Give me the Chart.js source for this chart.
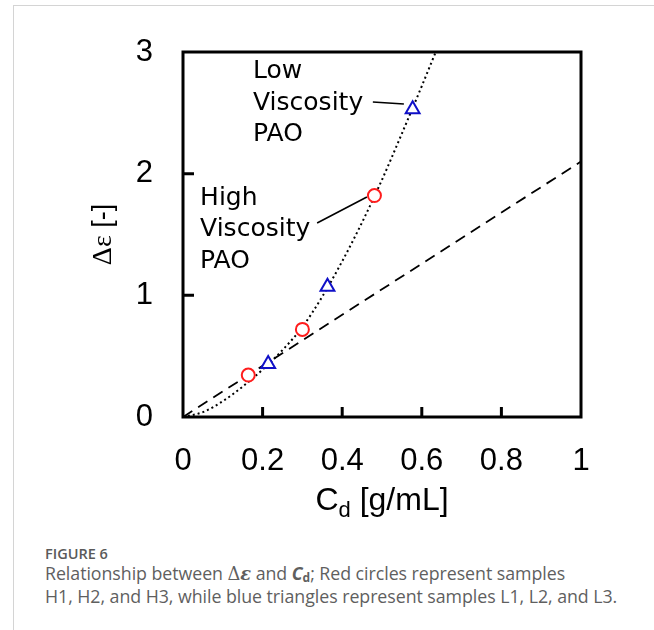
<!DOCTYPE html>
<html>
<head>
<meta charset="utf-8">
<script src="https://cdn.jsdelivr.net/npm/chart.js@4.4.1/dist/chart.umd.min.js"></script>
<style>
html,body{margin:0;padding:0;background:#fff;width:654px;height:630px;overflow:hidden;}
#frame{position:absolute;left:13px;top:5px;width:700px;height:700px;border-left:1px solid #d4d4d4;border-top:1px solid #d4d4d4;}
#wrap{position:absolute;left:0;top:0;width:654px;height:530px;}
#cap{position:absolute;left:45px;top:545px;font-family:"Open Sans",sans-serif;color:#5f5f5f;white-space:nowrap;}
#cap .fig{font-size:14.5px;font-weight:600;line-height:17px;color:#5a5a5a;}
#cap .txt{font-size:17.8px;line-height:23px;letter-spacing:-0.05px;}
#cap .sym{font-family:"DejaVu Serif",serif;font-style:italic;}
#cap sub{font-size:12px;vertical-align:-2px;line-height:0;}
</style>
</head>
<body>
<div id="frame"></div>
<div id="wrap"><canvas id="c" width="654" height="530"></canvas></div>
<div id="cap">
  <div class="fig">FIGURE 6</div>
  <div class="txt">Relationship between <span style="font-family:'DejaVu Serif',serif">Δ</span><b class="sym">ε</b> and <b><i>C</i><sub>d</sub></b>; Red circles represent samples<br>H1, H2, and H3, while blue triangles represent samples L1, L2, and L3.</div>
</div>
<script>
// ---- data ----
const xTickValues = [0, 0.2, 0.4, 0.6, 0.8, 1];
const yTickValues = [0, 1, 2, 3];
const xTickLabels = ['0', '0.2', '0.4', '0.6', '0.8', '1'];
const yTickLabels = ['0', '1', '2', '3'];

const dashedX = [0, 1];
const dashedY = [0, 2.1];

const dottedX = [0, 0.05, 0.10, 0.15, 0.20, 0.25, 0.30, 0.35, 0.40, 0.45, 0.50, 0.55, 0.60, 0.635];
const dottedY = [0, 0.04, 0.13, 0.25, 0.39, 0.55, 0.74, 0.99, 1.28, 1.60, 1.95, 2.33, 2.72, 3.0];

const highX = [0.164, 0.300, 0.481];   // H1, H2, H3 (red circles)
const highY = [0.345, 0.72, 1.82];
const lowX = [0.214, 0.363, 0.577];    // L1, L2, L3 (blue triangles)
const lowY = [0.435, 1.07, 2.53];

const xTitleMain = 'C', xTitleSub = 'd', xTitleRest = ' [g/mL]';
const yTitleSym = 'Δε', yTitleRest = ' [-]';
const lowLabel = ['Low', 'Viscosity', 'PAO'];
const highLabel = ['High', 'Viscosity', 'PAO'];

const zip = (xs, ys) => xs.map((x, i) => ({x: x, y: ys[i]}));

const AXIS_FONT = '"Liberation Sans", Arial, sans-serif';
const NOTE_FONT = '"DejaVu Sans", sans-serif';

const decor = {
  id: 'decor',
  afterDraw(chart) {
    const {ctx, chartArea: a, scales: {x, y}} = chart;
    ctx.save();
    // frame
    ctx.strokeStyle = '#000';
    ctx.lineWidth = 3;
    ctx.strokeRect(a.left, a.top, a.right - a.left, a.bottom - a.top);
    // inward tick marks
    ctx.beginPath();
    xTickValues.slice(1, -1).forEach(v => {
      const px = x.getPixelForValue(v);
      ctx.moveTo(px, a.bottom); ctx.lineTo(px, a.bottom - 10);
    });
    yTickValues.slice(1, -1).forEach(v => {
      const py = y.getPixelForValue(v);
      ctx.moveTo(a.left, py); ctx.lineTo(a.left + 11, py);
    });
    ctx.stroke();

    // x title with subscript
    ctx.fillStyle = '#000';
    ctx.textBaseline = 'alphabetic';
    ctx.textAlign = 'left';
    const fMain = '32px ' + AXIS_FONT, fSub = '22px ' + AXIS_FONT;
    ctx.font = fMain; const w1 = ctx.measureText(xTitleMain).width;
    const w3 = ctx.measureText(xTitleRest).width;
    ctx.font = fSub; const w2 = ctx.measureText(xTitleSub).width;
    const cx = (a.left + a.right) / 2;
    let sx = cx - (w1 + w2 + w3) / 2;
    const base = a.bottom + 93;
    ctx.font = fMain; ctx.fillText(xTitleMain, sx, base);
    ctx.font = fSub; ctx.fillText(xTitleSub, sx + w1, base + 7);
    ctx.font = fMain; ctx.fillText(xTitleRest, sx + w1 + w2, base);

    // y title rotated
    ctx.save();
    ctx.translate(a.left - 82, (a.top + a.bottom) / 2);
    ctx.rotate(-Math.PI / 2);
    const fSym = '28px "Liberation Serif", serif', fRest = '27px ' + AXIS_FONT;
    ctx.font = fSym; const ws = ctx.measureText(yTitleSym).width;
    ctx.font = fRest; const wr = ctx.measureText(yTitleRest).width;
    let ty = 10;
    ctx.font = fSym; ctx.fillText(yTitleSym, -(ws + wr) / 2, ty);
    ctx.font = fRest; ctx.fillText(yTitleRest, -(ws + wr) / 2 + ws, ty);
    ctx.restore();

    // annotations
    ctx.font = '25px ' + NOTE_FONT;
    ctx.textBaseline = 'middle';
    const drawLabel = (lines, dx, dy) => {
      const px = x.getPixelForValue(dx), py = y.getPixelForValue(dy);
      lines.forEach((t, i) => ctx.fillText(t, px, py + i * 31.5));
    };
    drawLabel(lowLabel, 0.176, 2.836);
    drawLabel(highLabel, 0.043, 1.80);
    ctx.lineWidth = 1.6;
    ctx.beginPath();
    ctx.moveTo(x.getPixelForValue(0.477), y.getPixelForValue(2.589));
    ctx.lineTo(x.getPixelForValue(0.555), y.getPixelForValue(2.572));
    ctx.moveTo(x.getPixelForValue(0.337), y.getPixelForValue(1.594));
    ctx.lineTo(x.getPixelForValue(0.462), y.getPixelForValue(1.808));
    ctx.stroke();
    ctx.restore();
  }
};

new Chart(document.getElementById('c'), {
  type: 'scatter',
  data: {
    datasets: [
      {
        label: 'linear', data: zip(dashedX, dashedY), showLine: true,
        borderColor: '#000', borderWidth: 1.8, borderDash: [11, 7],
        pointRadius: 0, order: 4
      },
      {
        label: 'fit', data: zip(dottedX, dottedY), showLine: true,
        borderColor: '#000', borderWidth: 2, borderDash: [2, 3],
        cubicInterpolationMode: 'monotone', pointRadius: 0, order: 3
      },
      {
        label: 'High viscosity PAO', data: zip(highX, highY),
        pointStyle: 'circle', pointRadius: 6.5, borderWidth: 2,
        borderColor: '#ff1c1c', backgroundColor: '#fff', order: 1
      },
      {
        label: 'Low viscosity PAO', data: zip(lowX, lowY),
        pointStyle: 'triangle', pointRadius: 8, borderWidth: 2,
        borderColor: '#1010c8', backgroundColor: '#fff', order: 2
      }
    ]
  },
  options: {
    responsive: false,
    animation: false,
    layout: {padding: {left: 0, top: 52, right: 73, bottom: 0}},
    plugins: {legend: {display: false}, tooltip: {enabled: false}},
    scales: {
      x: {
        type: 'linear', min: 0, max: 1,
        afterBuildTicks: s => { s.ticks = xTickValues.map(v => ({value: v})); },
        afterFit: s => { s.height = 113; },
        grid: {display: false},
        border: {display: false},
        ticks: {
          autoSkip: false, maxRotation: 0, padding: 18, color: '#000',
          font: {family: AXIS_FONT, size: 31},
          callback: (v) => xTickLabels[xTickValues.indexOf(v)]
        }
      },
      y: {
        type: 'linear', min: 0, max: 3,
        afterBuildTicks: s => { s.ticks = yTickValues.map(v => ({value: v})); },
        afterFit: s => { s.width = 183; },
        grid: {display: false},
        border: {display: false},
        ticks: {
          autoSkip: false, padding: 22, color: '#000',
          font: {family: AXIS_FONT, size: 31},
          callback: (v) => yTickLabels[yTickValues.indexOf(v)]
        }
      }
    }
  },
  plugins: [decor]
});
</script>
</body>
</html>
